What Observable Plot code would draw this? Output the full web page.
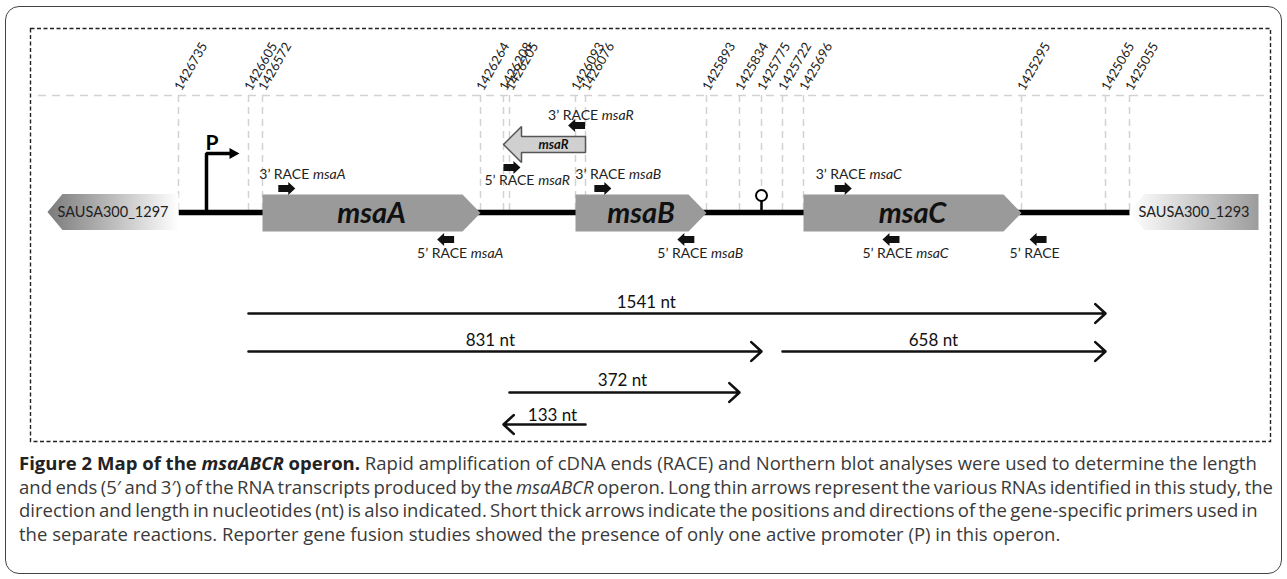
<!DOCTYPE html>
<html><head><meta charset="utf-8">
<script src="https://cdn.jsdelivr.net/npm/d3@7"></script>
<script src="https://cdn.jsdelivr.net/npm/@observablehq/plot@0.6"></script>
<style>
html,body{margin:0;padding:0;background:#fff;}
#wrap{position:relative;width:1287px;height:579px;overflow:hidden;}
#outer{position:absolute;left:5px;top:6px;width:1277px;height:568px;box-sizing:border-box;border:1.5px solid #444;border-radius:14px;}
#chart{position:absolute;left:0;top:0;}
#cap{position:absolute;left:19px;top:451px;font-family:"Open Sans","Noto Sans",sans-serif;color:#3a3a3a;line-height:23.5px;white-space:nowrap;font-size:16px;}
#cap b{color:#222;}
</style></head><body>
<div id="wrap"><div id="outer"></div><div id="chart"></div>
<div id="cap"><span class="l"><b>Figure 2 Map of the <i>msaABCR</i> operon.</b> Rapid amplification of cDNA ends (RACE) and Northern blot analyses were used to determine the length</span><br><span class="l">and ends (5′ and 3′) of the RNA transcripts produced by the <i>msaABCR</i> operon. Long thin arrows represent the various RNAs identified in this study, the</span><br><span class="l">direction and length in nucleotides (nt) is also indicated. Short thick arrows indicate the positions and directions of the gene-specific primers used in</span><br><span class="l">the separate reactions. Reporter gene fusion studies showed the presence of only one active promoter (P) in this operon.</span></div>
</div>
<script>
// ---------------- DATA (genomic coordinates) ----------------
const coords = [1426735, 1426605, 1426572, 1426264, 1426208, 1426205, 1426093, 1426076,
                1425893, 1425834, 1425775, 1425722, 1425696, 1425295, 1425065, 1425055];
const genes = [
  {name: "msaA", start: 1426572, end: 1426264},
  {name: "msaB", start: 1426093, end: 1425893},
  {name: "msaC", start: 1425696, end: 1425295}
];
const antisense = [{name: "msaR", start: 1426076, end: 1426208}];
const flanks = [
  {name: "SAUSA300_1297", start: 1426735, end: 1426960, grad: "g1297"},
  {name: "SAUSA300_1293", start: 1424830, end: 1425055, grad: "g1293"}
];
const operon = [{from: 1426735, to: 1425055}];
const promoter = [{name: "P", pos: 1426683}];
const terminator = [{pos: 1425775}];
const primerPrefix = ["3’ RACE", "5’ RACE", "5’ RACE", "3’ RACE", "3’ RACE", "5’ RACE", "3’ RACE", "5’ RACE", "5’ RACE"];
const primerGene   = ["msaA", "msaA", "msaR", "msaR", "msaB", "msaB", "msaC", "msaC", ""];
const primerPos    = [1426537, 1426314, 1426200, 1426092, 1426049, 1425925, 1425622, 1425536, 1425251];
const primerDir    = [1, -1, 1, -1, 1, -1, 1, -1, -1];
const primerTrack  = ["above", "below", "msaR5", "msaR3", "above", "below", "above", "below", "below"];
const transcripts = [
  {label: "1541 nt", from: 1426605, to: 1425065, labelAt: 1425984, track: 0},
  {label: "831 nt",  from: 1426605, to: 1425775, labelAt: 1426240, track: 1},
  {label: "658 nt",  from: 1425722, to: 1425065, labelAt: 1425457, track: 1},
  {label: "372 nt",  from: 1426205, to: 1425834, labelAt: 1426020, track: 2},
  {label: "133 nt",  from: 1426076, to: 1426208, labelAt: 1426132, track: 3}
];

// ---------------- LAYOUT ----------------
const W = 1287, H = 448;
const xScale = {
  type: "linear",
  domain: [1426960, ...coords, 1424830],
  range:  [47, 178, 248, 262, 480, 503, 509, 575, 585, 706, 739, 761, 782, 803, 1021, 1105, 1129, 1258]
};
const L = {
  labelBase: 91, ruler: 95, line: 212, geneHalf: 18.5, flankHalf: 18,
  msaR: 144, promTop: 153, promText: 149, termTop: 195, termR: 5.5,
  primerArrow: {above: 188, below: 239, msaR3: 125, msaR5: 167},
  primerText:  {above: 174, below: 253, msaR3: 115, msaR5: 180},
  tLine: [313, 351, 392, 424], tText: [302, 340, 380, 415]
};
const xs = Plot.scale({x: xScale});
const px = v => xs.apply(v);
const inv = d3.scaleLinear().domain(xScale.range).range(xScale.domain);
const gx = p => (typeof xs.invert === "function" ? xs.invert(p) : inv(p));

function blockArrow(id, p0, p1, yc, halfH, headHalf, tipLen) {
  const dir = Math.sign(p1 - p0);
  const sh = p1 - dir * tipLen;
  const pts = [[p0, yc - halfH], [sh, yc - halfH], [sh, yc - headHalf], [p1, yc],
               [sh, yc + headHalf], [sh, yc + halfH], [p0, yc + halfH], [p0, yc - halfH]];
  return pts.map(([p, y]) => ({id, x: gx(p), y}));
}

const genePolys = genes.flatMap(g => blockArrow(g.name, px(g.start), px(g.end), L.line + 0.5, L.geneHalf, L.geneHalf, 18));
const flankPolys = flanks.map(f => blockArrow(f.name, px(f.start), px(f.end), L.line - 0.5, L.flankHalf, L.flankHalf, 15));
const msaRPoly = antisense.flatMap(a => blockArrow(a.name, px(a.start), px(a.end), L.msaR, 8, 18, 18));
const primers = primerPos.map((p, i) => ({pos: p, dir: primerDir[i], prefix: primerPrefix[i], gene: primerGene[i], track: primerTrack[i]}));
const primerPolys = primers.flatMap((d, i) => {
  const c = px(d.pos);
  return blockArrow("p" + i, c - d.dir * 9, c + d.dir * 8, L.primerArrow[d.track], 3.5, 6.5, 7);
});
const promPx = px(promoter[0].pos);
const promPath = [{x: promoter[0].pos, y: L.line}, {x: promoter[0].pos, y: L.promTop}, {x: gx(promPx + 24), y: L.promTop}];
const promHead = [[promPx + 23, L.promTop - 5.5], [promPx + 33, L.promTop], [promPx + 23, L.promTop + 5.5]].map(([p, y]) => ({x: gx(p), y}));

const mid = (a, b) => gx((px(a) + px(b)) / 2);

const ctx = document.createElement("canvas").getContext("2d");
ctx.font = "14px Lato";
const prefixW = ctx.measureText("3’ RACE ").width;

const plot = Plot.plot({
  width: W, height: H,
  marginLeft: 30, marginRight: 17, marginTop: 28, marginBottom: 7,
  x: {...xScale, axis: null},
  y: {type: "linear", domain: [0, H], range: [0, H], axis: null},
  style: {fontFamily: "Lato, sans-serif", color: "#222", background: "transparent", overflow: "visible"},
  marks: [
    Plot.frame({stroke: "#222", strokeWidth: 1.4, strokeDasharray: "4,2.5"}),
    Plot.ruleY([L.ruler], {stroke: "#d2d2d2", strokeWidth: 1.5, strokeDasharray: "8,6", insetLeft: 8, insetRight: 5}),
    Plot.ruleX(coords, {x: d => d, y1: L.ruler, y2: L.line, stroke: "#d2d2d2", strokeWidth: 1.5, strokeDasharray: "7,5"}),
    Plot.text(coords, {x: d => d, y: L.labelBase, text: d => String(d), rotate: -60, textAnchor: "start", lineAnchor: "bottom", dx: 3, fontSize: 13, fill: "#222"}),
    Plot.link(operon, {x1: "from", x2: "to", y1: L.line, y2: L.line, stroke: "#000", strokeWidth: 5.5}),
    ...flankPolys.map((pts, i) => Plot.line(pts, {x: "x", y: "y", z: "id", fill: `url(#${flanks[i].grad})`, stroke: "none"})),
    Plot.text(flanks, {x: d => mid(d.start, d.end), y: L.line, text: "name", fontSize: 14.5, fill: "#222"}),
    Plot.line(genePolys, {x: "x", y: "y", z: "id", fill: "#9a9a9a", stroke: "none"}),
    Plot.text(genes, {x: d => mid(d.start, d.end), y: L.line + 1, text: "name", fontSize: 29, fontWeight: "bold", fontStyle: "italic", fill: "#111"}),
    Plot.line(msaRPoly, {x: "x", y: "y", z: "id", fill: "#d0d0d0", stroke: "#555", strokeWidth: 1.5, strokeLinejoin: "miter"}),
    Plot.text(antisense, {x: d => gx((px(d.start) + px(d.end) + 18) / 2), y: L.msaR, text: "name", fontSize: 13, fontWeight: "bold", fontStyle: "italic", fill: "#111"}),
    Plot.line(promPath, {x: "x", y: "y", stroke: "#000", strokeWidth: 3.5, strokeLinejoin: "miter", strokeLinecap: "butt"}),
    Plot.line(promHead, {x: "x", y: "y", fill: "#000", stroke: "none"}),
    Plot.text(promoter, {x: "pos", y: L.promText, text: "name", textAnchor: "start", lineAnchor: "bottom", dx: -1, fontSize: 21, fontWeight: "bold", fill: "#000"}),
    Plot.ruleX(terminator, {x: "pos", y1: L.termTop + L.termR, y2: L.line, stroke: "#000", strokeWidth: 2.5}),
    Plot.dot(terminator, {x: "pos", y: L.termTop, r: L.termR, fill: "#fff", stroke: "#000", strokeWidth: 2}),
    Plot.line(primerPolys, {x: "x", y: "y", z: "id", fill: "#111", stroke: "none"}),
    Plot.text(primers, {x: "pos", y: d => L.primerText[d.track], text: "prefix", textAnchor: "start", dx: -28, fontSize: 14, fill: "#222"}),
    Plot.text(primers, {x: "pos", y: d => L.primerText[d.track], text: "gene", textAnchor: "start", dx: -28 + prefixW, fontSize: 14, fontStyle: "italic", fill: "#222"}),
    Plot.arrow(transcripts, {x1: "from", x2: "to", y1: d => L.tLine[d.track], y2: d => L.tLine[d.track], stroke: "#111", strokeWidth: 2.6, headLength: 8, headAngle: 85, strokeLinejoin: "miter"}),
    Plot.text(transcripts, {x: "labelAt", y: d => L.tText[d.track], text: "label", fontSize: 17, fill: "#111"})
  ]
});

// gradient definitions for the flanking genes
const ns = "http://www.w3.org/2000/svg";
const defs = document.createElementNS(ns, "defs");
const grads = [["g1297", "#7a7a7a", "#ffffff"], ["g1293", "#ffffff", "#9c9c9c"]];
for (const [id, c0, c1] of grads) {
  const g = document.createElementNS(ns, "linearGradient");
  g.setAttribute("id", id);
  g.setAttribute("x1", "0"); g.setAttribute("x2", "1"); g.setAttribute("y1", "0"); g.setAttribute("y2", "0");
  for (const [off, c] of [["0", c0], ["1", c1]]) {
    const s = document.createElementNS(ns, "stop");
    s.setAttribute("offset", off); s.setAttribute("stop-color", c);
    g.appendChild(s);
  }
  defs.appendChild(g);
}
plot.insertBefore(defs, plot.firstChild);
document.getElementById("chart").appendChild(plot);

// fit caption: font size from line 1, then gentle word spacing on the full lines 2 and 3
const cap = document.getElementById("cap");
const targets = [1239, 1254, 1234, null];
const lines = [...cap.querySelectorAll(".l")];
const w0 = lines[0].getBoundingClientRect().width;
cap.style.fontSize = (16 * targets[0] / w0).toFixed(2) + "px";
lines.forEach((el, i) => {
  if (targets[i] == null || i === 0) return;
  const w = el.getBoundingClientRect().width;
  const spaces = (el.textContent.match(/ /g) || []).length;
  const ws = Math.max(-1.5, Math.min(1.5, (targets[i] - w) / spaces));
  el.style.wordSpacing = ws.toFixed(2) + "px";
});
</script>
</body></html>
